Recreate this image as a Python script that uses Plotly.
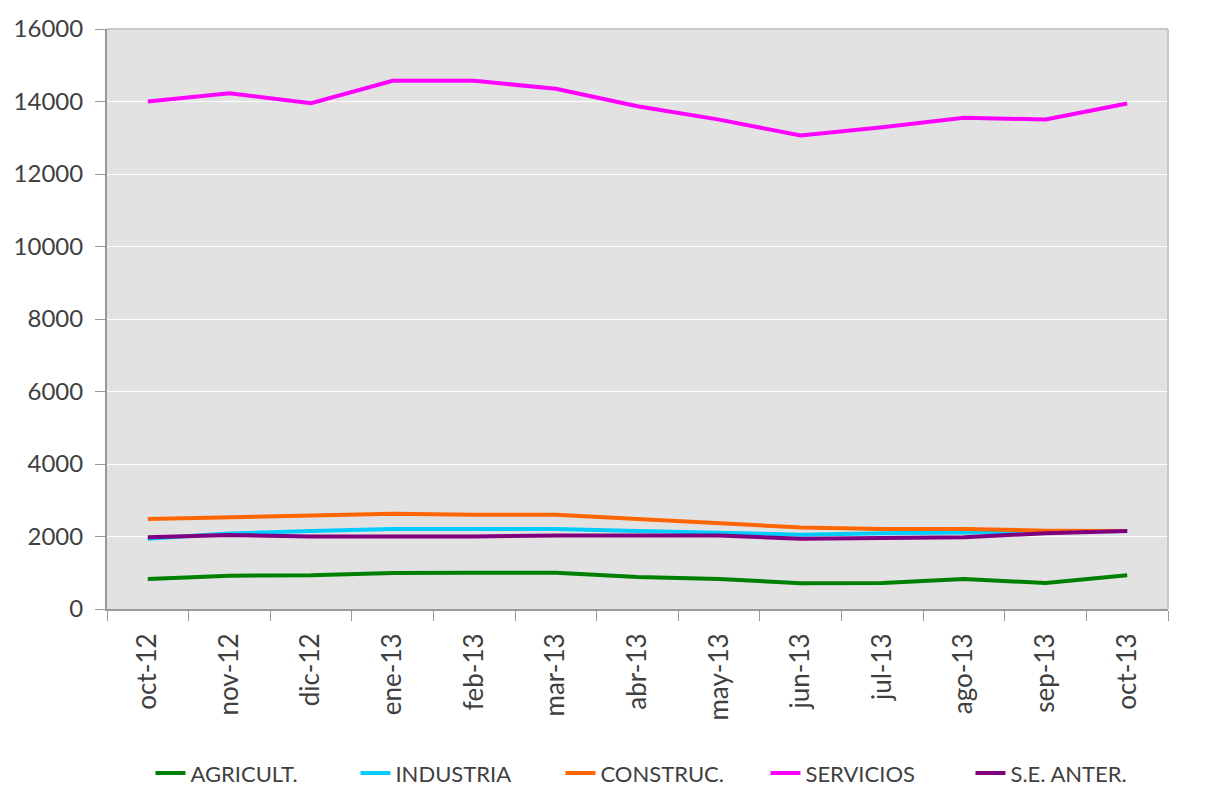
import plotly.graph_objects as go

# Datos (oct-12 a oct-13)
meses = ["oct-12", "nov-12", "dic-12", "ene-13", "feb-13", "mar-13", "abr-13",
         "may-13", "jun-13", "jul-13", "ago-13", "sep-13", "oct-13"]

agricult = [830, 920, 930, 990, 1000, 1000, 880, 830, 710, 720, 830, 715, 930]
industria = [1940, 2080, 2150, 2210, 2210, 2210, 2150, 2110, 2050, 2090, 2110, 2130, 2150]
construc = [2480, 2530, 2590, 2630, 2600, 2600, 2480, 2370, 2250, 2210, 2210, 2160, 2150]
servicios = [14000, 14230, 13955, 14570, 14570, 14350, 13870, 13500, 13060, 13290, 13550, 13505, 13945]
se_anter = [1980, 2040, 2000, 2000, 2000, 2030, 2040, 2030, 1935, 1960, 1980, 2090, 2150]

series = [
    ("AGRICULT.", agricult, "#008000"),
    ("INDUSTRIA", industria, "#00CCFF"),
    ("CONSTRUC.", construc, "#FF6600"),
    ("SERVICIOS", servicios, "#FF00FF"),
    ("S.E. ANTER.", se_anter, "#800080"),
]

fig = go.Figure()
for nombre, valores, color in series:
    fig.add_trace(go.Scatter(x=meses, y=valores, name=nombre, mode="lines",
                             line=dict(color=color, width=4)))

fuente = dict(family="Lato, 'Open Sans', sans-serif", color="#404040")

fig.update_layout(
    width=1214, height=803,
    margin=dict(l=99, r=54, t=21, b=202, autoexpand=False),
    paper_bgcolor="white",
    plot_bgcolor="#e2e2e2",
    font=fuente,
    legend=dict(orientation="h", x=0.524, xanchor="center", y=-0.283, yanchor="middle",
                font=dict(size=22, color="#404040"), itemwidth=30, entrywidth=160,
                bgcolor="rgba(0,0,0,0)"),
    xaxis=dict(type="category", tickangle=-90, ticks="outside", tickson="boundaries",
               ticklen=10, tickcolor="#999", showline=True, linecolor="#999", linewidth=2,
               showgrid=False, tickfont=dict(size=26), range=[-0.5, 12.5],
               automargin=False, ticklabelstandoff=12),
    yaxis=dict(range=[0, 16000], dtick=2000, tickformat="d", ticks="outside", ticklen=10,
               tickcolor="#999", showline=True, linecolor="#999", linewidth=2,
               gridcolor="white", gridwidth=1, zeroline=False, tickfont=dict(size=24),
               automargin=False, ticklabelstandoff=7),
    shapes=[
        # borde superior y derecho del área de trazado
        dict(type="line", xref="paper", yref="paper", x0=0, x1=1, y0=1, y1=1,
             line=dict(color="#c8c8c8", width=2)),
        dict(type="line", xref="paper", yref="paper", x0=1, x1=1, y0=0, y1=1,
             line=dict(color="#c8c8c8", width=2)),
        # esquinas redondeadas del marco exterior
        dict(type="path", xref="paper", yref="paper",
             path="M -0.1008,-0.3132 Q -0.1008,-0.3440 -0.0867,-0.3440 L -0.1008,-0.3440 Z",
             fillcolor="#111", line=dict(width=0)),
        dict(type="path", xref="paper", yref="paper",
             path="M 1.0434,-0.3132 Q 1.0434,-0.3440 1.0293,-0.3440 L 1.0434,-0.3440 Z",
             fillcolor="#111", line=dict(width=0)),
    ],
)

fig.write_html("out.html")
